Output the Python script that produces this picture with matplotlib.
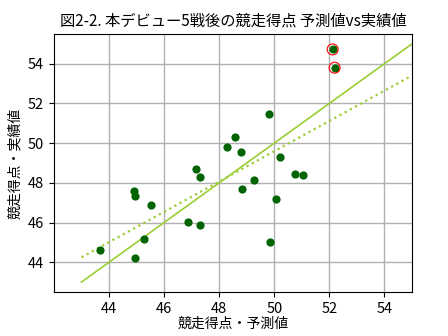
import numpy as np
import matplotlib
matplotlib.use("Agg")
import matplotlib.pyplot as plt

plt.rcParams['font.family'] = ['Noto Sans CJK JP', 'DejaVu Sans']

# 予測値 / 実績値
pred = [52.12, 52.19, 49.79, 48.56, 48.27, 48.78, 50.19, 47.14, 47.30, 50.77,
        51.03, 49.28, 48.81, 44.92, 44.96, 50.05, 45.54, 46.88, 47.32, 45.28,
        49.85, 43.68, 44.96]
actual = [54.72, 53.80, 51.49, 50.29, 49.78, 49.53, 49.28, 48.68, 48.28, 48.43,
          48.38, 48.13, 47.67, 47.57, 47.32, 47.17, 46.87, 46.02, 45.86, 45.16,
          45.01, 44.61, 44.21]
# 外れ値として丸で囲む馬
highlight = [0, 1]

pred = np.array(pred)
actual = np.array(actual)

fig = plt.figure(figsize=(4.48, 3.36), dpi=100)
ax = fig.add_axes([0.1205, 0.131, 0.7991, 0.768])

xs = np.array([43, 55])
ax.plot(xs, xs, color='yellowgreen', lw=1.2, zorder=2)
a, b = np.polyfit(pred, actual, 1)
ax.plot(xs, a * xs + b, color='yellowgreen', lw=1.6, ls=':', zorder=2)

ax.scatter(pred, actual, s=24, color='darkgreen', zorder=3)
ax.scatter(pred[highlight], actual[highlight], s=62, facecolors='none',
           edgecolors='red', linewidths=0.8, zorder=4)

ax.set_xlim(42, 55)
ax.set_ylim(42.5, 55.5)
ax.set_xticks([44, 46, 48, 50, 52, 54])
ax.set_yticks([44, 46, 48, 50, 52, 54])
ax.grid(True, color='#b0b0b0', lw=1)
ax.set_axisbelow(True)
ax.tick_params(labelsize=10.5)
ax.set_xlabel('競走得点・予測値', fontsize=10, labelpad=1)
ax.set_ylabel('競走得点・実績値', fontsize=10, labelpad=4)
ax.set_title('図2-2. 本デビュー5戦後の競走得点 予測値vs実績値', fontsize=11, pad=6)

fig.savefig('out.png', dpi=100)
